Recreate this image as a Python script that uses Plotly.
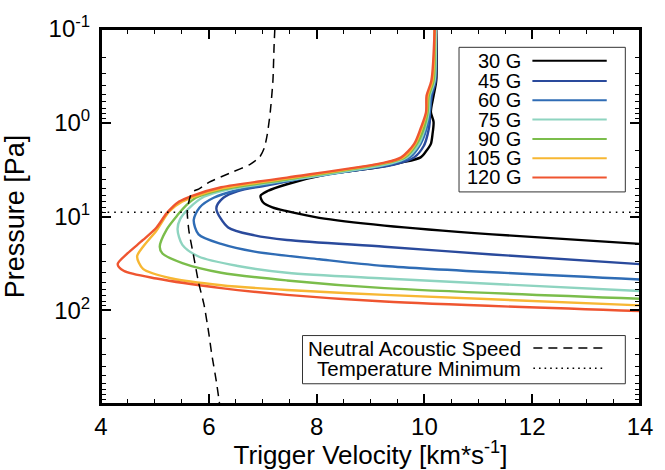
import plotly.graph_objects as go

# ---------------- data ----------------
field_labels = ["30 G", "45 G", "60 G", "75 G", "90 G", "105 G", "120 G"]
colors = ["#000000", "#2a4a9c", "#2f6cb5", "#8ed4c0", "#7bbd4b", "#f7b733", "#ef5530"]

v30 = [10.22, 10.22, 10.17, 10.12, 10.17, 10.15, 10.12, 10.04, 9.93, 9.57, 9.08, 8.17, 7.45, 7.09, 6.96, 7.01, 7.18, 7.45, 8.05, 9.26, 11.26, 14.0]
p30 = [0.1, 0.354, 0.516, 0.771, 0.977, 1.33, 1.68, 1.98, 2.34, 2.66, 3.03, 3.58, 4.53, 5.35, 6.01, 7.10, 8.0, 8.78, 10.36, 12.5, 15.5, 19.6]

v45 = [10.21, 10.21, 10.14, 10.10, 10.10, 10.06, 9.99, 9.81, 9.44, 7.99, 7.09, 6.54, 6.27, 6.14, 6.36, 6.85, 7.45, 9.26, 11.26, 14.0]
p45 = [0.1, 0.354, 0.516, 0.771, 0.977, 1.33, 1.76, 2.34, 2.79, 3.66, 4.64, 5.35, 6.31, 8.18, 13.1, 15.9, 17.8, 21.0, 25.4, 32.2]

v60 = [10.21, 10.19, 10.12, 10.10, 10.04, 9.93, 9.73, 9.41, 7.63, 6.54, 6.09, 5.83, 5.72, 5.81, 6.23, 6.85, 8.05, 9.26, 14.0]
p60 = [0.1, 0.354, 0.516, 0.771, 1.15, 1.68, 2.34, 2.73, 4.03, 5.22, 6.31, 8.0, 10.9, 15.5, 19.6, 23.7, 28.6, 33.7, 47.0]

v75 = [10.21, 10.19, 10.10, 10.08, 10.01, 9.90, 9.68, 9.37, 7.45, 6.32, 5.91, 5.63, 5.47, 5.42, 5.51, 5.81, 6.54, 7.45, 9.26, 14.0]
p75 = [0.1, 0.354, 0.516, 0.771, 1.15, 1.68, 2.34, 2.73, 4.12, 5.22, 6.16, 8.18, 10.6, 13.7, 20.1, 26.7, 33.7, 39.8, 45.9, 62.4]

v90 = [10.19, 10.17, 10.08, 10.06, 9.99, 9.86, 9.64, 9.34, 7.45, 6.29, 5.76, 5.58, 5.42, 5.22, 5.09, 5.14, 5.51, 6.23, 7.45, 9.26, 14.0]
p90 = [0.1, 0.354, 0.516, 0.771, 1.15, 1.68, 2.34, 2.66, 4.03, 5.10, 6.31, 7.62, 9.66, 13.7, 21.0, 24.8, 31.4, 39.8, 48.1, 58.1, 75.3]

v105 = [10.19, 10.15, 10.06, 10.04, 9.95, 9.83, 9.61, 9.30, 7.45, 6.27, 5.72, 5.51, 5.27, 5.03, 4.78, 4.67, 4.78, 5.32, 6.23, 7.45, 9.26, 14.0]
p105 = [0.1, 0.354, 0.516, 0.771, 1.15, 1.68, 2.34, 2.66, 3.94, 4.98, 6.16, 6.93, 8.78, 14.1, 21.0, 26.7, 36.2, 45.9, 54.1, 60.9, 68.5, 88.8]

v120 = [10.19, 10.13, 10.04, 10.03, 9.93, 9.81, 9.57, 9.26, 7.45, 6.23, 5.69, 5.45, 5.22, 5.03, 4.78, 4.49, 4.31, 4.42, 5.03, 6.23, 7.45, 9.26, 14.0]
p120 = [0.1, 0.354, 0.516, 0.771, 1.15, 1.68, 2.34, 2.66, 3.85, 4.87, 6.01, 6.93, 9.21, 13.1, 17.8, 24.8, 32.2, 37.9, 45.9, 58.1, 68.5, 80.8, 102]

acoustic_v = [7.225, 7.21, 7.19, 7.14, 7.085, 7.03, 6.94, 6.76, 6.41, 6.0, 5.81, 5.69, 5.63, 5.60, 5.63, 5.72, 5.81, 5.91, 6.0, 6.05, 6.14, 6.20]
acoustic_p = [0.1, 0.158, 0.354, 0.771, 1.33, 1.85, 2.34, 2.79, 3.41, 4.32, 5.10, 5.47, 6.93, 8.78, 14.1, 26.7, 50.5, 86.7, 176, 283, 574, 1000]

temp_min_p = 9.0
x_range = [4, 14]
y_range_log = [3.0, -1.0]

y_tickvals = [0.1, 1, 10, 100]
y_ticktext = ["10<sup>-1</sup>", "10<sup>0</sup>", "10<sup>1</sup>", "10<sup>2</sup>"]
y_minor = [m * 10.0 ** e for e in range(-1, 3) for m in range(2, 10)]

ref_labels = ["Neutral Acoustic Speed", "Temperature Minimum"]

series_v = [v30, v45, v60, v75, v90, v105, v120]
series_p = [p30, p45, p60, p75, p90, p105, p120]

# ---------------- figure ----------------
FONT = "Liberation Sans, Arial, Helvetica, sans-serif"
W, H = 665, 470
ML, MR, MT, MB = 100, 14, 15, 66
PW, PH = W - ML - MR, H - MT - MB


def px(x):
    return (x - ML) / PW


def py(y):
    return 1 - (y - MT) / PH


fig = go.Figure()

for v, p, c, lab in zip(series_v, series_p, colors, field_labels):
    fig.add_trace(go.Scatter(x=v, y=p, mode="lines", name=lab,
                             line=dict(color=c, width=2.4, shape="spline", smoothing=0.8),
                             showlegend=False, hoverinfo="skip"))

fig.add_trace(go.Scatter(x=acoustic_v, y=acoustic_p, mode="lines", name=ref_labels[0],
                         line=dict(color="black", width=1.5, dash="9px,6px", shape="spline", smoothing=0.6),
                         showlegend=False, hoverinfo="skip"))
fig.add_trace(go.Scatter(x=x_range, y=[temp_min_p, temp_min_p], mode="lines", name=ref_labels[1],
                         line=dict(color="black", width=1.6, dash="1.6px,5px"),
                         showlegend=False, hoverinfo="skip"))
# empty trace so the mirrored (top/right) axes are drawn
fig.add_trace(go.Scatter(x=[], y=[], xaxis="x2", yaxis="y2", showlegend=False, hoverinfo="skip"))

shapes = []
annotations = []

# plot frame
shapes.append(dict(type="rect", xref="paper", yref="paper", x0=0, x1=1, y0=0, y1=1,
                   line=dict(color="black", width=2), layer="above"))

# legend box 1 (magnetic field strengths)
shapes.append(dict(type="rect", xref="paper", yref="paper",
                   x0=px(466), x1=px(636), y0=py(184), y1=py(34),
                   line=dict(color="#333333", width=1), fillcolor="white", layer="above"))
row_y = [48, 69, 89, 109, 129, 149, 169]
for lab, c, ry in zip(field_labels, colors, row_y):
    annotations.append(dict(xref="paper", yref="paper", x=px(531), y=py(ry), text=lab,
                            showarrow=False, xanchor="right", yanchor="middle",
                            font=dict(family=FONT, size=20, color="black")))
    shapes.append(dict(type="line", xref="paper", yref="paper",
                       x0=px(541), x1=px(617), y0=py(ry), y1=py(ry),
                       line=dict(color=c, width=2), layer="above"))

# legend box 2 (reference lines)
shapes.append(dict(type="rect", xref="paper", yref="paper",
                   x0=px(306), x1=px(636), y0=py(383), y1=py(333),
                   line=dict(color="#333333", width=1), fillcolor="white", layer="above"))
row2_y = [346, 367]
dashes = ["9px,6px", "1.6px,4px"]
for lab, ry, d in zip(ref_labels, row2_y, dashes):
    annotations.append(dict(xref="paper", yref="paper", x=px(531), y=py(ry), text=lab,
                            showarrow=False, xanchor="right", yanchor="middle",
                            font=dict(family=FONT, size=20.5, color="black")))
    shapes.append(dict(type="line", xref="paper", yref="paper",
                       x0=px(542), x1=px(614), y0=py(ry), y1=py(ry),
                       line=dict(color="black", width=1.5, dash=d), layer="above"))

axis_common = dict(showline=True, linewidth=2, linecolor="black",
                   ticks="inside", ticklen=10, tickwidth=1.5, tickcolor="black",
                   showgrid=False, zeroline=False, ticklabeloverflow="allow",
                   tickfont=dict(family=FONT, size=24, color="black"))

x_minor = dict(dtick=0.5, ticks="inside", ticklen=5, tickwidth=1.2, tickcolor="black")
y_minor_d = dict(tickvals=y_minor, ticks="inside", ticklen=5, tickwidth=1.2, tickcolor="black")

fig.update_layout(
    width=W, height=H,
    margin=dict(l=ML, r=MR, t=MT, b=MB),
    paper_bgcolor="white", plot_bgcolor="white",
    shapes=shapes, annotations=annotations,
    xaxis=dict(range=x_range, tick0=4, dtick=2, minor=x_minor,
               title=dict(text="Trigger Velocity [km*s<sup>-1</sup>]", standoff=0,
                          font=dict(family=FONT, size=26, color="black")),
               **axis_common),
    yaxis=dict(type="log", range=y_range_log, tickvals=y_tickvals, ticktext=y_ticktext,
               minor=y_minor_d, ticklabelstandoff=4,
               title=dict(text="Pressure [Pa]", standoff=18,
                          font=dict(family=FONT, size=27, color="black")),
               **axis_common),
    xaxis2=dict(range=x_range, tick0=4, dtick=2, minor=x_minor, overlaying="x", side="top",
                anchor="y", showticklabels=False, **axis_common),
    yaxis2=dict(type="log", range=y_range_log, tickvals=y_tickvals, minor=y_minor_d,
                overlaying="y", side="right", anchor="x", showticklabels=False, **axis_common),
)

fig.write_html("out.html", config={"displayModeBar": False},
               post_script="document.body.style.margin='0';document.body.style.overflow='hidden';")
